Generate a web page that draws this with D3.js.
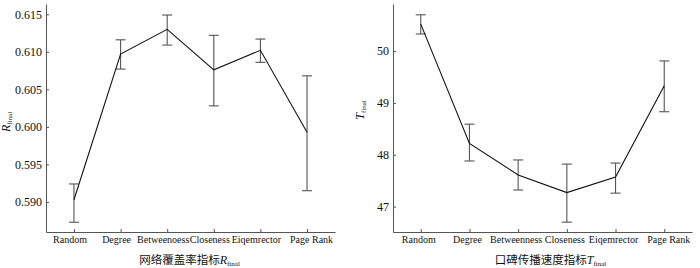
<!DOCTYPE html>
<html>
<head>
<meta charset="utf-8">
<script src="https://cdn.jsdelivr.net/npm/d3@7"></script>
<style>
  body { margin: 0; background: #fff; }
  svg text { font-family: "Liberation Serif", "Times New Roman", serif; }
</style>
</head>
<body>
<div id="chart"></div>
<script>
// categories for each panel (as printed in the source)
var catsR = ["Random", "Degree", "Betweenoess", "Closeness", "Eiqemrector", "Page Rank"];
var catsT = ["Random", "Degree", "Betweenness", "Closeness", "Eiqemrector", "Page Rank"];

// network coverage R_final: mean, upper, lower
var rMean = [0.5903, 0.6097, 0.6130, 0.6076, 0.6102, 0.5993];
var rHigh = [0.5924, 0.6116, 0.6149, 0.6122, 0.6117, 0.6068];
var rLow  = [0.5873, 0.6077, 0.6109, 0.6028, 0.6086, 0.5915];
var rTicks = [0.590, 0.595, 0.600, 0.605, 0.610, 0.615];

// spread speed T_final: mean, upper, lower
var tMean = [50.52, 48.22, 47.61, 47.27, 47.57, 49.33];
var tHigh = [50.70, 48.59, 47.90, 47.82, 47.84, 49.81];
var tLow  = [50.33, 47.88, 47.32, 46.70, 47.26, 48.83];
var tTicks = [47, 48, 49, 50];

var serif = '"Liberation Serif", "Times New Roman", serif';

var svg = d3.select("#chart").append("svg")
    .attr("width", 700)
    .attr("height", 268);

function drawPanel(opt) {
    var x = d3.scalePoint()
        .domain(opt.cats)
        .range([opt.x0, opt.x1])
        .padding(opt.pad);

    var y = d3.scaleLinear()
        .domain(opt.yDomain)
        .range([232, 4]);

    var g = svg.append("g");

    // axes
    var yAxis = g.append("g")
        .attr("transform", "translate(" + opt.x0 + ",0)")
        .call(d3.axisLeft(y).tickValues(opt.ticks).tickFormat(opt.fmt).tickSizeInner(-3).tickSizeOuter(0).tickPadding(4));
    var xAxis = g.append("g")
        .attr("transform", "translate(0,232)")
        .call(d3.axisBottom(x).tickSizeInner(-3).tickSizeOuter(0).tickPadding(4));

    [yAxis, xAxis].forEach(function (a) {
        a.attr("font-family", serif);
        a.select(".domain").attr("stroke", "#555");
        a.selectAll(".tick line").attr("stroke", "#555");
        a.selectAll(".tick text").attr("fill", "#111");
    });
    yAxis.attr("font-size", 12);
    xAxis.attr("font-size", 10);
    // labels in the source sit a little left of their ticks, the last one a little right
    xAxis.selectAll(".tick text")
        .attr("dx", function (d, i) { return i === opt.cats.length - 1 ? 4 : opt.labelDx; });

    // error bars
    var eb = g.append("g").attr("stroke", "#555").attr("stroke-width", 1.1).attr("fill", "none");
    opt.cats.forEach(function (c, i) {
        var cx = x(c);
        eb.append("line").attr("x1", cx).attr("x2", cx).attr("y1", y(opt.hi[i])).attr("y2", y(opt.lo[i]));
        eb.append("line").attr("x1", cx - 5).attr("x2", cx + 5).attr("y1", y(opt.hi[i])).attr("y2", y(opt.hi[i]));
        eb.append("line").attr("x1", cx - 5).attr("x2", cx + 5).attr("y1", y(opt.lo[i])).attr("y2", y(opt.lo[i]));
    });

    // mean line
    var line = d3.line()
        .x(function (d, i) { return x(opt.cats[i]); })
        .y(function (d) { return y(d); });
    g.append("path")
        .datum(opt.mean)
        .attr("d", line)
        .attr("fill", "none")
        .attr("stroke", "#111")
        .attr("stroke-width", 1.1);

    // y label
    var yl = g.append("text")
        .attr("transform", "translate(" + opt.ylx + "," + opt.yly + ") rotate(-90)")
        .attr("text-anchor", "middle")
        .attr("font-family", serif)
        .attr("fill", "#111");
    yl.append("tspan").attr("font-style", "italic").attr("font-size", 12).text(opt.sym);
    yl.append("tspan").attr("font-size", 7).attr("dy", 2).text("final");

    // x title
    var xt = g.append("text")
        .attr("x", (opt.x0 + opt.x1) / 2 + opt.xtOff)
        .attr("y", 264)
        .attr("text-anchor", "middle")
        .attr("font-family", serif)
        .attr("fill", "#111");
    xt.append("tspan").attr("font-family", "Noto Sans CJK SC").attr("font-size", 11.5).text(opt.title);
    xt.append("tspan").attr("font-style", "italic").attr("font-size", 12).text(opt.sym);
    xt.append("tspan").attr("font-size", 7).attr("dy", 2).text("final");
}

drawPanel({
    cats: catsR, mean: rMean, hi: rHigh, lo: rLow, ticks: rTicks,
    yDomain: [0.5860, 0.61637], fmt: d3.format(".3f"),
    x0: 46, x1: 335, pad: 0.6, labelDx: -4.5,
    sym: "R", title: "网络覆盖率指标", ylx: 10, yly: 122, xtOff: -1
});

drawPanel({
    cats: catsT, mean: tMean, hi: tHigh, lo: tLow, ticks: tTicks,
    yDomain: [46.51, 50.908], fmt: d3.format("d"),
    x0: 393, x1: 692, pad: 0.57, labelDx: -2.5,
    sym: "T", title: "口碑传播速度指标", ylx: 364, yly: 110, xtOff: 8
});
</script>
</body>
</html>
